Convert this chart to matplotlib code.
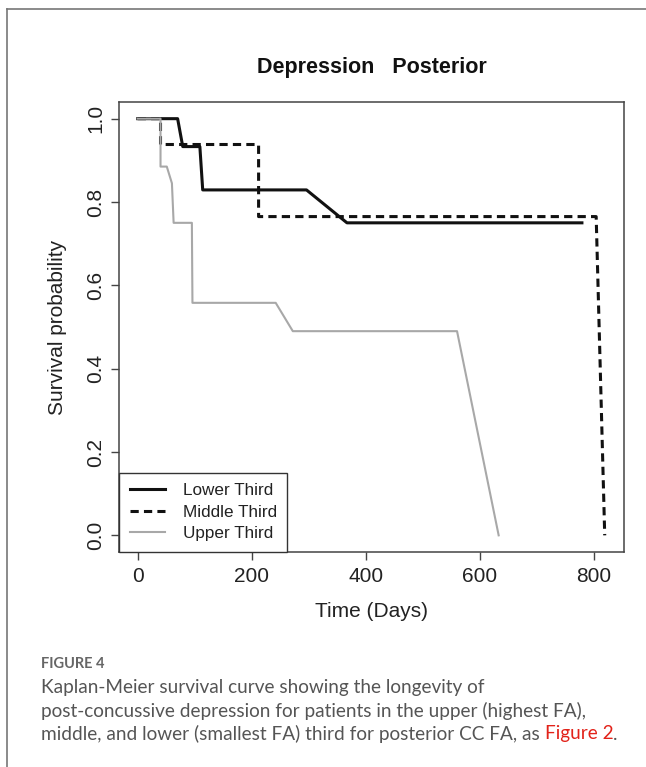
import matplotlib
matplotlib.use("Agg")
import matplotlib.pyplot as plt
from matplotlib.lines import Line2D

# Kaplan-Meier curves (time in days, survival probability)
lower_t = [0, 70, 79, 109, 114, 296, 367, 779]
lower_s = [1.0, 1.0, 0.933, 0.933, 0.829, 0.829, 0.75, 0.75]

middle_t = [0, 40, 40, 212, 212, 804, 819]
middle_s = [1.0, 1.0, 0.938, 0.938, 0.765, 0.765, 0.0]

upper_t = [0, 40, 40, 51, 60, 63, 95, 96, 242, 272, 560, 633]
upper_s = [1.0, 1.0, 0.885, 0.885, 0.845, 0.75, 0.75, 0.558, 0.558, 0.49, 0.49, 0.0]

group_labels = ["Lower Third", "Middle Third", "Upper Third"]
x_ticks = [0, 200, 400, 600, 800]
y_ticks = [0.0, 0.2, 0.4, 0.6, 0.8, 1.0]

plt.rcParams['font.family'] = ['Liberation Sans', 'DejaVu Sans']

W, H = 646, 767
fig = plt.figure(figsize=(W / 100, H / 100), dpi=100)
fig.patch.set_facecolor('white')

# plot area in pixels: left 119, right 624, top 102, bottom 552
ax = fig.add_axes([119 / W, 1 - 552 / H, (624 - 119) / W, (552 - 102) / H])

ax.plot(lower_t, lower_s, color='#111111', lw=2.2, label=group_labels[0])
ax.plot(middle_t, middle_s, color='#111111', lw=2.2, linestyle=(0, (2.7, 1.7)),
        label=group_labels[1])
ax.plot(upper_t, upper_s, color='#a8a8a8', lw=1.5, label=group_labels[2])

ax.set_xlim(-32.8, 852.8)
ax.set_ylim(-0.04, 1.04)
ax.set_xticks(x_ticks)
ax.set_xticklabels([str(v) for v in x_ticks])
ax.set_yticks(y_ticks)
ax.set_yticklabels(["%.1f" % v for v in y_ticks], rotation=90, va='center')

for sp in ax.spines.values():
    sp.set_color('#444444')
    sp.set_linewidth(1.1)
ax.tick_params(direction='out', length=5.8, width=1, color='#444444',
               labelsize=15, labelcolor='#222222')
ax.tick_params(axis='x', pad=5)
ax.tick_params(axis='y', pad=4)

ax.set_xlabel("Time (Days)", fontsize=15, color='#222222', va='center')
ax.xaxis.set_label_coords(0.5, -0.133)
ax.set_ylabel("Survival probability", fontsize=15, color='#222222', va='center')
ax.yaxis.set_label_coords(-0.121, 0.5)

fig.text(371.5 / W, 1 - 67 / H, "Depression   Posterior", fontsize=15.5,
         fontweight='bold', color='#111111', ha='center', va='center')

leg = ax.legend(loc='lower left', bbox_to_anchor=(0, 0), borderaxespad=0,
                fontsize=12.3, frameon=True, fancybox=False, framealpha=1,
                edgecolor='#333333', handlelength=2.1, handletextpad=1.0,
                labelspacing=0.38, borderpad=0.62)
leg.get_frame().set_linewidth(1.0)
for t in leg.get_texts():
    t.set_color('#222222')

# page frame lines
fig.add_artist(Line2D([7 / W, 7 / W], [0, 1 - 9 / H], transform=fig.transFigure,
                      color='#777777', lw=1.2))
fig.add_artist(Line2D([7 / W, 1], [1 - 9 / H, 1 - 9 / H], transform=fig.transFigure,
                      color='#777777', lw=1.2))

# caption
cap_font = ['Lato', 'DejaVu Sans']
cap_size = 13.7
fig.text(41 / W, 1 - 664 / H, "FIGURE 4", fontsize=10.5, family=cap_font,
         fontweight='bold', color='#666666', va='center')
fig.text(41 / W, 1 - 687 / H, "Kaplan-Meier survival curve showing the longevity of",
         fontsize=cap_size, family=cap_font, color='#555555', va='center')
fig.text(41 / W, 1 - 711 / H,
         "post-concussive depression for patients in the upper (highest FA),",
         fontsize=cap_size, family=cap_font, color='#555555', va='center')
last = fig.text(41 / W, 1 - 734 / H,
                "middle, and lower (smallest FA) third for posterior CC FA, as ",
                fontsize=cap_size, family=cap_font, color='#555555', va='center')
fig.canvas.draw()
bb = last.get_window_extent()
ref = fig.text(bb.x1 / W, 1 - 734 / H, "Figure 2", fontsize=cap_size, family=cap_font,
               color='#e2231a', va='center')
fig.canvas.draw()
bb2 = ref.get_window_extent()
fig.text(bb2.x1 / W, 1 - 734 / H, ".", fontsize=cap_size, family=cap_font,
         color='#555555', va='center')

fig.savefig("out.png", dpi=100)
